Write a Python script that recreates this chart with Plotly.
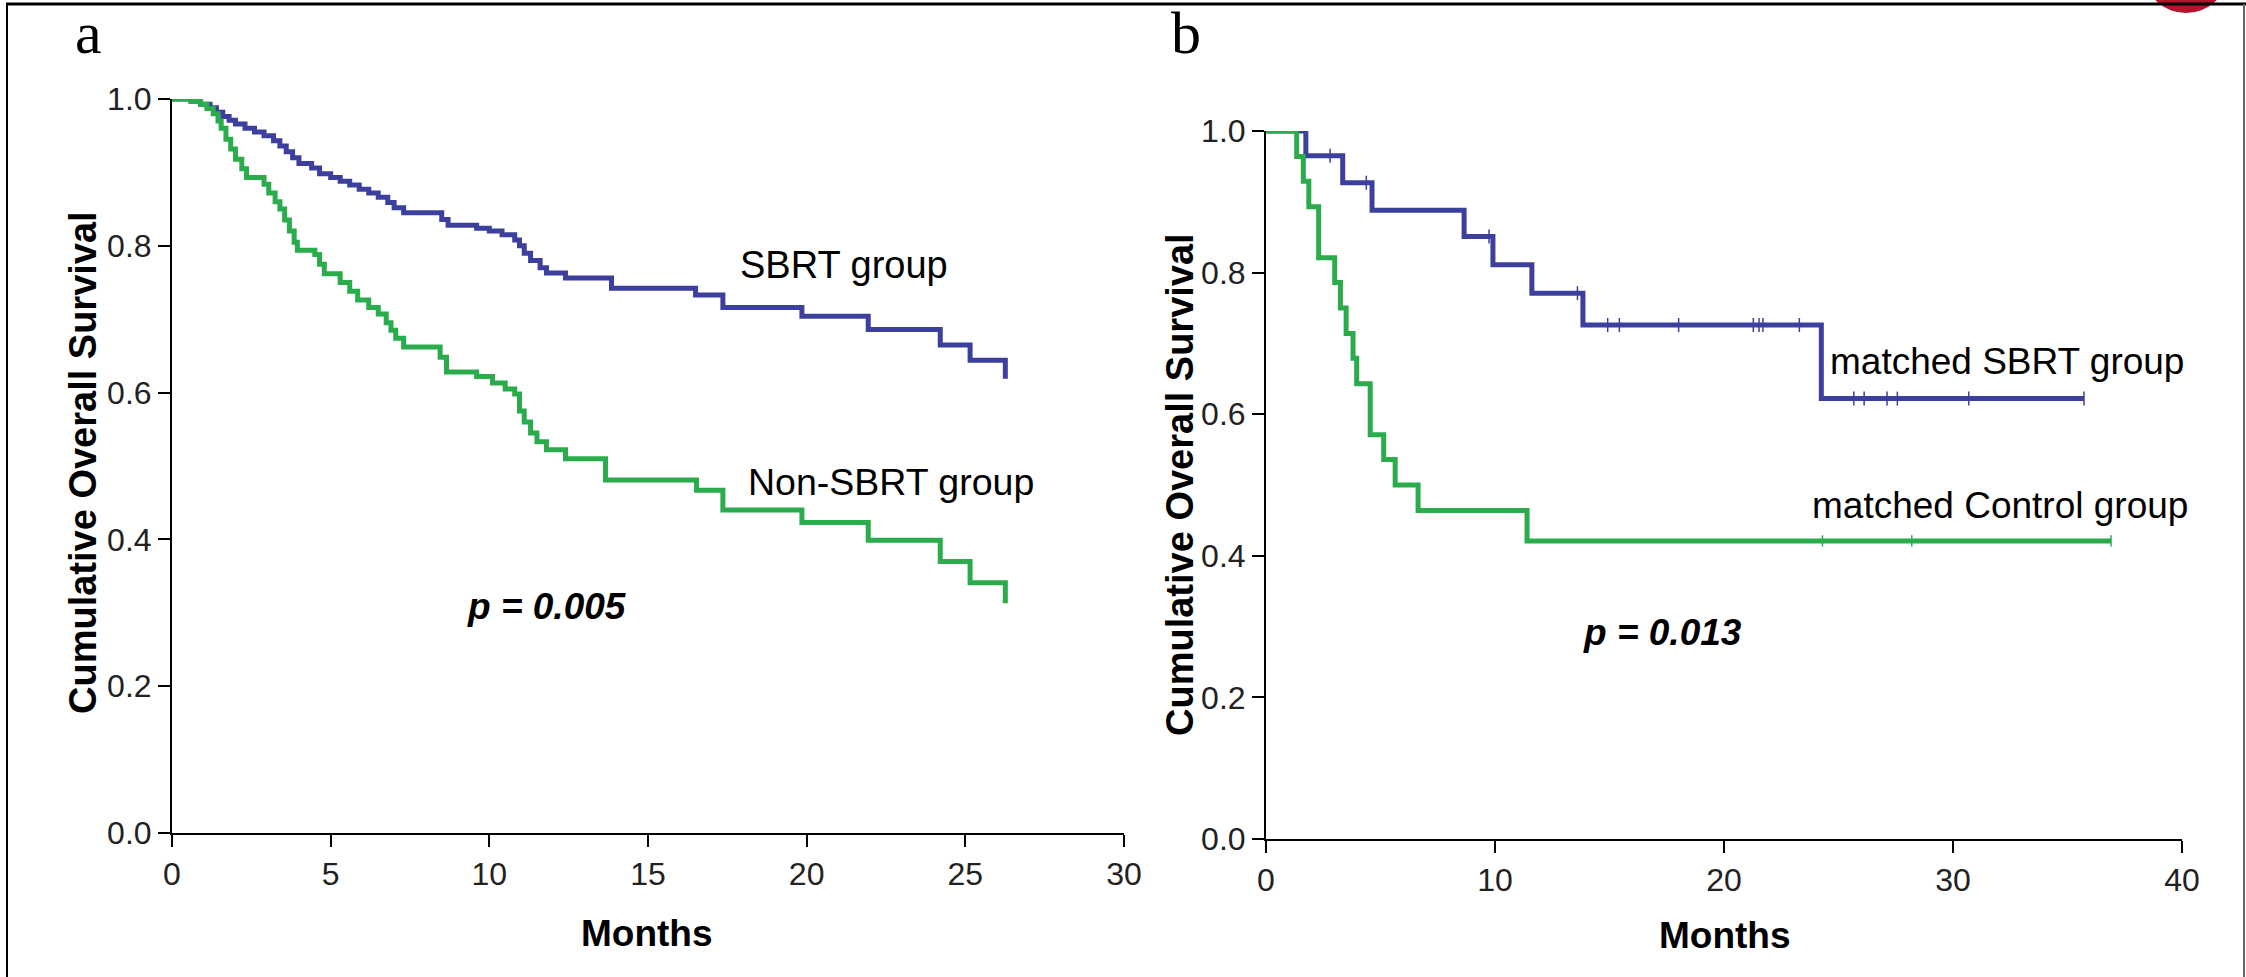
import plotly.graph_objects as go

# ---------------- data ----------------
# Panel a: all patients
sbrt_t = [0, 0.6, 0.9, 1.2, 1.4, 1.6, 1.8, 2.0, 2.3, 2.6, 2.9, 3.2, 3.4, 3.6, 3.8, 4.0, 4.4, 4.65,
          5.0, 5.3, 5.6, 5.9, 6.2, 6.5, 6.8, 7.0, 7.3, 8.5, 8.7, 9.6, 10.0, 10.4, 10.8, 10.95, 11.1,
          11.3, 11.6, 11.8, 12.4, 13.85, 16.5, 17.36, 19.85, 21.94, 24.21, 25.15, 26.26]
sbrt_s = [1.0, 0.997, 0.993, 0.988, 0.982, 0.976, 0.971, 0.966, 0.960, 0.955, 0.950, 0.943, 0.936,
          0.928, 0.920, 0.912, 0.906, 0.898, 0.893, 0.888, 0.883, 0.877, 0.872, 0.866, 0.859, 0.852,
          0.845, 0.836, 0.828, 0.824, 0.820, 0.815, 0.808, 0.800, 0.790, 0.780, 0.770, 0.763, 0.756,
          0.742, 0.733, 0.716, 0.704, 0.686, 0.665, 0.644, 0.619]

non_t = [0, 0.6, 0.9, 1.1, 1.3, 1.45, 1.55, 1.7, 1.85, 2.0, 2.2, 2.35, 2.9, 3.05, 3.25, 3.4, 3.55,
         3.7, 3.85, 3.95, 4.5, 4.65, 4.8, 5.3, 5.6, 5.85, 6.2, 6.5, 6.75, 6.9, 7.05, 7.3, 8.45, 8.65,
         9.6, 10.1, 10.5, 10.8, 10.95, 11.1, 11.3, 11.5, 11.8, 12.4, 13.66, 16.53, 17.36, 19.85,
         21.94, 24.21, 25.15, 26.26]
non_s = [1.0, 0.997, 0.993, 0.987, 0.980, 0.970, 0.960, 0.945, 0.932, 0.918, 0.905, 0.893, 0.884,
         0.872, 0.860, 0.850, 0.835, 0.820, 0.805, 0.794, 0.788, 0.775, 0.762, 0.750, 0.738, 0.726,
         0.716, 0.707, 0.695, 0.685, 0.674, 0.662, 0.648, 0.628, 0.622, 0.613, 0.605, 0.598, 0.575,
         0.560, 0.545, 0.533, 0.522, 0.510, 0.481, 0.467, 0.440, 0.423, 0.399, 0.370, 0.341, 0.313]

# Panel b: matched cohorts
msbrt_t = [0, 1.74, 3.35, 4.63, 8.65, 9.91, 11.61, 13.84, 24.25, 35.72]
msbrt_s = [1.0, 0.965, 0.927, 0.888, 0.851, 0.811, 0.771, 0.726, 0.622, 0.622]
msbrt_cens_t = [2.8, 4.38, 9.74, 13.6, 14.92, 15.43, 18.02, 21.28, 21.53, 21.7, 23.29,
                25.67, 26.12, 27.12, 27.57, 30.69, 35.72]
msbrt_cens_s = [0.965, 0.927, 0.851, 0.771, 0.726, 0.726, 0.726, 0.726, 0.726, 0.726, 0.726,
                0.622, 0.622, 0.622, 0.622, 0.622, 0.622]

mctrl_t = [0, 1.34, 1.63, 1.87, 2.30, 3.0, 3.25, 3.5, 3.8, 3.96, 4.55, 5.14, 5.64, 6.64, 11.4, 36.9]
mctrl_s = [1.0, 0.964, 0.929, 0.893, 0.821, 0.786, 0.750, 0.714, 0.679, 0.643, 0.571, 0.536,
           0.500, 0.464, 0.421, 0.421]
mctrl_cens_t = [24.3, 28.2, 36.9]
mctrl_cens_s = [0.421, 0.421, 0.421]

y_ticks = [0.0, 0.2, 0.4, 0.6, 0.8, 1.0]
xa_ticks = [0, 5, 10, 15, 20, 25, 30]
xb_ticks = [0, 10, 20, 30, 40]

# ---------------- styling ----------------
W, H = 2246, 977
BLUE = "#3d3f9f"
GREEN = "#2aab4c"
SANS = "Liberation Sans, Arial, sans-serif"
LW = 5


def px(x):
    return x / W


def py(y):
    return 1 - y / H


fig = go.Figure()

fig.add_trace(go.Scatter(x=sbrt_t, y=sbrt_s, mode="lines", line=dict(color=BLUE, width=LW, shape="hv"),
                         xaxis="x", yaxis="y", showlegend=False))
fig.add_trace(go.Scatter(x=non_t, y=non_s, mode="lines", line=dict(color=GREEN, width=LW, shape="hv"),
                         xaxis="x", yaxis="y", showlegend=False))

fig.add_trace(go.Scatter(x=msbrt_t, y=msbrt_s, mode="lines", line=dict(color=BLUE, width=LW, shape="hv"),
                         xaxis="x2", yaxis="y2", showlegend=False))
fig.add_trace(go.Scatter(x=mctrl_t, y=mctrl_s, mode="lines", line=dict(color=GREEN, width=LW, shape="hv"),
                         xaxis="x2", yaxis="y2", showlegend=False))
fig.add_trace(go.Scatter(x=msbrt_cens_t, y=msbrt_cens_s, mode="markers",
                         marker=dict(symbol="line-ns", size=10, line=dict(color=BLUE, width=1.5)),
                         xaxis="x2", yaxis="y2", showlegend=False))
fig.add_trace(go.Scatter(x=mctrl_cens_t, y=mctrl_cens_s, mode="markers",
                         marker=dict(symbol="line-ns", size=8, line=dict(color=GREEN, width=1.5)),
                         xaxis="x2", yaxis="y2", showlegend=False))

axis_common = dict(showline=True, linecolor="black", linewidth=2, ticks="outside", ticklen=12,
                   tickwidth=2, tickcolor="black", showgrid=False, zeroline=False, automargin=False,
                   tickfont=dict(family=SANS, size=32, color="#222"))

fig.update_layout(
    width=W, height=H,
    margin=dict(l=0, r=0, t=0, b=0, pad=0, autoexpand=False),
    paper_bgcolor="white", plot_bgcolor="white",
    showlegend=False,
    xaxis=dict(domain=[px(172), px(1124)], range=[0, 30], tickvals=xa_ticks, anchor="y", **axis_common),
    yaxis=dict(domain=[py(833), py(99)], range=[0, 1], tickvals=y_ticks, tickformat=".1f", anchor="x",
               **axis_common),
    xaxis2=dict(domain=[px(1266), px(2182)], range=[0, 40], tickvals=xb_ticks, anchor="y2", **axis_common),
    yaxis2=dict(domain=[py(839), py(131)], range=[0, 1], tickvals=y_ticks, tickformat=".1f", anchor="x2",
                **axis_common),
)


def ann(text, x, y, size, angle=0, family=SANS, color="black"):
    fig.add_annotation(text=text, x=px(x), y=py(y), xref="paper", yref="paper", showarrow=False,
                       xanchor="center", yanchor="middle", textangle=angle,
                       font=dict(family=family, size=size, color=color))


# panel letters
ann("a", 88, 33, 60, family="Liberation Serif, Times New Roman, serif")
ann("b", 1186, 33, 60, family="Liberation Serif, Times New Roman, serif")

# axis titles
ann("<b>Cumulative Overall Survival</b>", 83, 463, 38, angle=-90)
ann("<b>Cumulative Overall Survival</b>", 1180, 485, 38, angle=-90)
ann("<b>Months</b>", 647, 933, 37)
ann("<b>Months</b>", 1725, 935, 37)

# curve labels
ann("SBRT group", 844, 265, 38)
ann("Non-SBRT group", 891, 482, 37.5)
ann("matched SBRT group", 2007, 362, 37)
ann("matched Control group", 2000, 505, 37)

# p values
ann("<b><i>p = 0.005</i></b>", 547, 606, 37)
ann("<b><i>p = 0.013</i></b>", 1662, 632, 37)

# frame borders and corner logo
fig.add_shape(type="circle", xref="paper", yref="paper", x0=px(2146), x1=px(2226), y0=py(13), y1=py(-60),
              fillcolor="#b5122b", line=dict(width=0), layer="above")
fig.add_shape(type="line", xref="paper", yref="paper", x0=px(6), x1=px(2246), y0=py(4), y1=py(4),
              line=dict(color="black", width=3))
fig.add_shape(type="line", xref="paper", yref="paper", x0=px(7), x1=px(7), y0=py(4), y1=py(977),
              line=dict(color="black", width=2))
fig.add_shape(type="line", xref="paper", yref="paper", x0=px(2244), x1=px(2244), y0=py(4), y1=py(977),
              line=dict(color="#666", width=2))

fig.write_html("out.html", post_script="document.body.style.margin='0px';document.body.style.padding='0px';")
